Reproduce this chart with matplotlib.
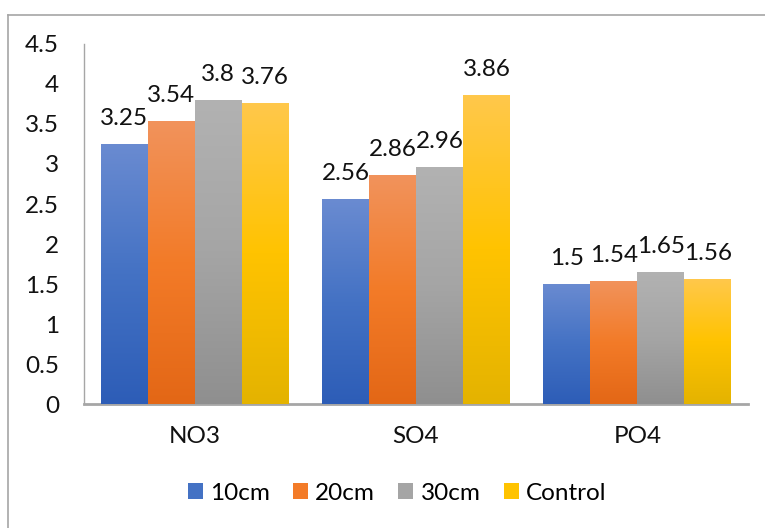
import matplotlib

matplotlib.use("Agg")
import matplotlib.pyplot as plt
import numpy as np
from matplotlib.colors import LinearSegmentedColormap
from matplotlib.lines import Line2D
from matplotlib.patches import Patch

plt.rcParams["font.family"] = ["Lato", "DejaVu Sans"]

categories = ["NO3", "SO4", "PO4"]
series_names = ["10cm", "20cm", "30cm", "Control"]
values = {
    "10cm": [3.25, 2.56, 1.5],
    "20cm": [3.54, 2.86, 1.54],
    "30cm": [3.8, 2.96, 1.65],
    "Control": [3.76, 3.86, 1.56],
}
y_ticks = [0, 0.5, 1, 1.5, 2, 2.5, 3, 3.5, 4, 4.5]
y_tick_labels = ["0", "0.5", "1", "1.5", "2", "2.5", "3", "3.5", "4", "4.5"]

# light top -> base colour -> darker bottom, like an office gradient fill
gradients = {
    "10cm": ["#6a8bd1", "#4472c4", "#2d5db7"],
    "20cm": ["#f1935c", "#f37b28", "#e36716"],
    "30cm": ["#b2b2b2", "#a5a5a5", "#8f8f8f"],
    "Control": ["#ffc84b", "#ffc300", "#e4b300"],
}
FS = 17.5

fig = plt.figure(figsize=(7.65, 5.28), dpi=100)
ax = fig.add_axes([0.1098, 0.2348, 0.8680, 0.6819])

x = np.arange(len(categories))
bar_w = 0.212
offsets = (np.arange(len(series_names)) - 1.5) * bar_w
grad = np.linspace(1, 0, 256).reshape(-1, 1)

for name, off in zip(series_names, offsets):
    cmap = LinearSegmentedColormap.from_list(name, gradients[name][::-1])
    bars = ax.bar(x + off, values[name], width=bar_w, color=gradients[name][1],
                  edgecolor="none", zorder=2)
    for bar, v in zip(bars, values[name]):
        x0 = bar.get_x()
        img = ax.imshow(grad, cmap=cmap, aspect="auto", vmin=0, vmax=1,
                        extent=(x0, x0 + bar_w, 0, v), zorder=3)
        img.set_clip_path(bar)
        ax.annotate(f"{v:g}", (x0 + bar_w / 2, v), xytext=(0, 11),
                    textcoords="offset points", ha="center", va="bottom",
                    fontsize=FS, color="#111111", zorder=4)

ax.set_xlim(-0.5, len(categories) - 0.5)
ax.set_ylim(0, 4.5)
ax.set_yticks(y_ticks)
ax.set_yticklabels(y_tick_labels)
ax.set_xticks(x)
ax.set_xticklabels(categories)
ax.tick_params(axis="both", length=0, labelsize=FS, colors="#111111")
ax.tick_params(axis="y", pad=18)
ax.tick_params(axis="x", pad=16)

for side in ["top", "right"]:
    ax.spines[side].set_visible(False)
ax.spines["left"].set_color("#a6a6a6")
ax.spines["left"].set_linewidth(1.0)
ax.spines["bottom"].set_color("#a6a6a6")
ax.spines["bottom"].set_linewidth(2.0)

handles = [Patch(facecolor=gradients[n][1], edgecolor="none") for n in series_names]
fig.legend(handles, series_names, loc="center", bbox_to_anchor=(397 / 765, 1 - 493 / 528),
           ncol=4, frameon=False, fontsize=FS, handlelength=0.62, handleheight=0.62,
           handletextpad=0.3, columnspacing=0.95)

# outer chart border (runs off the right and bottom edges)
fig.add_artist(Line2D([8 / 765, 8 / 765], [0, 1 - 15 / 528], color="#a6a6a6",
                      linewidth=1.2, transform=fig.transFigure))
fig.add_artist(Line2D([8 / 765, 1], [1 - 15 / 528, 1 - 15 / 528], color="#a6a6a6",
                      linewidth=1.2, transform=fig.transFigure))

fig.savefig("out.png", dpi=100)
